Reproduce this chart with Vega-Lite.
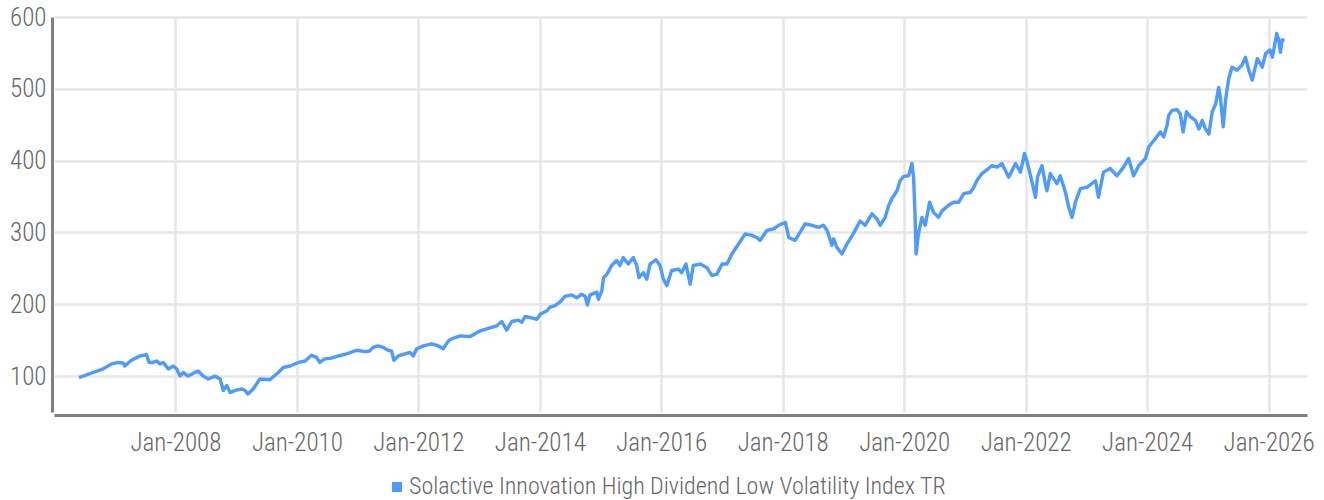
{
  "$schema": "https://vega.github.io/schema/vega-lite/v6.json",
  "width": 1253,
  "height": 395,
  "autosize": {"type": "none"},
  "padding": {"left": 54, "top": 17, "right": 17, "bottom": 88},
  "background": "white",
  "config": {
    "view": {"stroke": null},
    "font": "Roboto Condensed, Roboto, sans-serif",
    "axis": {
      "labelFont": "Roboto Condensed, Roboto, sans-serif",
      "labelFontWeight": 300,
      "labelColor": "#666666",
      "labelFontSize": 25,
      "gridColor": "#e6e6e6",
      "gridWidth": 2.5,
      "domainColor": "#808080",
      "domainWidth": 3,
      "ticks": false
    },
    "legend": {
      "labelFont": "Roboto Condensed, Roboto, sans-serif",
      "labelFontWeight": 300,
      "labelColor": "#666666",
      "labelFontSize": 24,
      "labelLimit": 0
    }
  },
  "data": {
    "values": [
      {"date": "2006-05-31", "value": 98},
      {"date": "2006-06-25", "value": 100},
      {"date": "2006-08-24", "value": 105},
      {"date": "2006-10-24", "value": 110},
      {"date": "2006-12-13", "value": 117},
      {"date": "2007-01-23", "value": 119},
      {"date": "2007-02-21", "value": 118},
      {"date": "2007-03-03", "value": 114},
      {"date": "2007-04-12", "value": 122},
      {"date": "2007-06-01", "value": 128},
      {"date": "2007-07-11", "value": 130},
      {"date": "2007-07-27", "value": 119},
      {"date": "2007-08-20", "value": 119},
      {"date": "2007-09-10", "value": 121},
      {"date": "2007-09-30", "value": 117},
      {"date": "2007-10-20", "value": 119},
      {"date": "2007-11-19", "value": 110},
      {"date": "2007-12-19", "value": 114},
      {"date": "2008-01-09", "value": 110},
      {"date": "2008-01-29", "value": 100},
      {"date": "2008-02-17", "value": 105},
      {"date": "2008-03-18", "value": 100},
      {"date": "2008-04-27", "value": 105},
      {"date": "2008-05-17", "value": 107},
      {"date": "2008-06-16", "value": 100},
      {"date": "2008-07-16", "value": 96},
      {"date": "2008-08-26", "value": 100},
      {"date": "2008-09-26", "value": 96},
      {"date": "2008-10-15", "value": 80},
      {"date": "2008-11-05", "value": 87},
      {"date": "2008-11-25", "value": 77},
      {"date": "2008-12-25", "value": 80},
      {"date": "2009-02-04", "value": 82},
      {"date": "2009-02-23", "value": 80},
      {"date": "2009-03-13", "value": 75},
      {"date": "2009-04-13", "value": 82},
      {"date": "2009-05-23", "value": 96},
      {"date": "2009-07-22", "value": 95},
      {"date": "2009-09-11", "value": 105},
      {"date": "2009-10-11", "value": 112},
      {"date": "2009-11-21", "value": 114},
      {"date": "2010-01-10", "value": 119},
      {"date": "2010-02-19", "value": 121},
      {"date": "2010-03-30", "value": 129},
      {"date": "2010-04-29", "value": 126},
      {"date": "2010-05-18", "value": 119},
      {"date": "2010-06-18", "value": 124},
      {"date": "2010-07-28", "value": 125},
      {"date": "2010-09-07", "value": 128},
      {"date": "2010-10-27", "value": 131},
      {"date": "2010-12-26", "value": 136},
      {"date": "2011-02-15", "value": 134},
      {"date": "2011-03-15", "value": 135},
      {"date": "2011-04-04", "value": 140},
      {"date": "2011-05-04", "value": 142},
      {"date": "2011-06-04", "value": 140},
      {"date": "2011-07-03", "value": 136},
      {"date": "2011-07-24", "value": 135},
      {"date": "2011-08-07", "value": 122},
      {"date": "2011-09-03", "value": 128},
      {"date": "2011-10-13", "value": 131},
      {"date": "2011-11-12", "value": 133},
      {"date": "2011-12-02", "value": 128},
      {"date": "2011-12-22", "value": 138},
      {"date": "2012-02-01", "value": 142},
      {"date": "2012-03-21", "value": 145},
      {"date": "2012-05-01", "value": 142},
      {"date": "2012-05-30", "value": 138},
      {"date": "2012-06-30", "value": 149},
      {"date": "2012-07-20", "value": 152},
      {"date": "2012-09-09", "value": 156},
      {"date": "2012-11-08", "value": 155},
      {"date": "2013-01-08", "value": 163},
      {"date": "2013-03-07", "value": 167},
      {"date": "2013-04-17", "value": 170},
      {"date": "2013-05-17", "value": 176},
      {"date": "2013-06-16", "value": 164},
      {"date": "2013-07-16", "value": 176},
      {"date": "2013-08-25", "value": 178},
      {"date": "2013-09-15", "value": 175},
      {"date": "2013-10-04", "value": 183},
      {"date": "2013-11-14", "value": 181},
      {"date": "2013-12-14", "value": 179},
      {"date": "2014-01-03", "value": 186},
      {"date": "2014-02-13", "value": 191},
      {"date": "2014-03-03", "value": 196},
      {"date": "2014-04-02", "value": 198},
      {"date": "2014-05-02", "value": 203},
      {"date": "2014-06-01", "value": 211},
      {"date": "2014-07-11", "value": 213},
      {"date": "2014-08-11", "value": 209},
      {"date": "2014-09-10", "value": 214},
      {"date": "2014-10-01", "value": 211},
      {"date": "2014-10-14", "value": 199},
      {"date": "2014-10-30", "value": 213},
      {"date": "2014-12-10", "value": 217},
      {"date": "2014-12-19", "value": 207},
      {"date": "2015-01-09", "value": 219},
      {"date": "2015-01-19", "value": 237},
      {"date": "2015-02-09", "value": 242},
      {"date": "2015-03-09", "value": 254},
      {"date": "2015-04-08", "value": 261},
      {"date": "2015-04-28", "value": 254},
      {"date": "2015-05-17", "value": 265},
      {"date": "2015-06-17", "value": 256},
      {"date": "2015-07-17", "value": 265},
      {"date": "2015-08-07", "value": 254},
      {"date": "2015-08-20", "value": 237},
      {"date": "2015-09-16", "value": 244},
      {"date": "2015-10-06", "value": 235},
      {"date": "2015-10-26", "value": 256},
      {"date": "2015-12-01", "value": 262},
      {"date": "2015-12-25", "value": 254},
      {"date": "2016-01-14", "value": 235},
      {"date": "2016-02-04", "value": 226},
      {"date": "2016-03-04", "value": 247},
      {"date": "2016-04-13", "value": 249},
      {"date": "2016-05-03", "value": 244},
      {"date": "2016-05-29", "value": 256},
      {"date": "2016-06-23", "value": 228},
      {"date": "2016-07-12", "value": 254},
      {"date": "2016-08-22", "value": 256},
      {"date": "2016-10-02", "value": 251},
      {"date": "2016-11-01", "value": 240},
      {"date": "2016-12-01", "value": 242},
      {"date": "2017-01-01", "value": 256},
      {"date": "2017-01-31", "value": 256},
      {"date": "2017-03-01", "value": 270},
      {"date": "2017-04-10", "value": 284},
      {"date": "2017-05-20", "value": 298},
      {"date": "2017-06-29", "value": 296},
      {"date": "2017-07-29", "value": 293},
      {"date": "2017-08-18", "value": 289},
      {"date": "2017-09-28", "value": 303},
      {"date": "2017-11-07", "value": 305},
      {"date": "2017-12-07", "value": 310},
      {"date": "2018-01-17", "value": 314},
      {"date": "2018-02-06", "value": 293},
      {"date": "2018-03-16", "value": 289},
      {"date": "2018-04-15", "value": 300},
      {"date": "2018-05-15", "value": 312},
      {"date": "2018-06-25", "value": 310},
      {"date": "2018-08-04", "value": 307},
      {"date": "2018-09-03", "value": 310},
      {"date": "2018-09-24", "value": 303},
      {"date": "2018-10-24", "value": 282},
      {"date": "2018-11-03", "value": 291},
      {"date": "2018-11-23", "value": 279},
      {"date": "2018-12-23", "value": 270},
      {"date": "2019-01-22", "value": 284},
      {"date": "2019-03-01", "value": 298},
      {"date": "2019-04-11", "value": 316},
      {"date": "2019-05-11", "value": 310},
      {"date": "2019-06-21", "value": 326},
      {"date": "2019-07-21", "value": 319},
      {"date": "2019-08-10", "value": 310},
      {"date": "2019-09-09", "value": 321},
      {"date": "2019-09-29", "value": 337},
      {"date": "2019-10-19", "value": 347},
      {"date": "2019-11-19", "value": 358},
      {"date": "2019-12-08", "value": 372},
      {"date": "2019-12-28", "value": 378},
      {"date": "2020-01-28", "value": 379},
      {"date": "2020-02-17", "value": 396},
      {"date": "2020-02-27", "value": 377},
      {"date": "2020-03-07", "value": 321},
      {"date": "2020-03-13", "value": 270},
      {"date": "2020-03-27", "value": 298},
      {"date": "2020-04-17", "value": 321},
      {"date": "2020-05-07", "value": 310},
      {"date": "2020-06-02", "value": 342},
      {"date": "2020-06-26", "value": 328},
      {"date": "2020-07-26", "value": 321},
      {"date": "2020-08-16", "value": 330},
      {"date": "2020-09-25", "value": 338},
      {"date": "2020-10-25", "value": 342},
      {"date": "2020-11-24", "value": 342},
      {"date": "2020-12-24", "value": 354},
      {"date": "2021-02-03", "value": 356},
      {"date": "2021-02-23", "value": 363},
      {"date": "2021-03-13", "value": 372},
      {"date": "2021-04-13", "value": 382},
      {"date": "2021-05-22", "value": 389},
      {"date": "2021-06-12", "value": 393},
      {"date": "2021-07-12", "value": 391},
      {"date": "2021-08-11", "value": 396},
      {"date": "2021-09-21", "value": 377},
      {"date": "2021-11-01", "value": 396},
      {"date": "2021-12-01", "value": 384},
      {"date": "2021-12-25", "value": 410},
      {"date": "2022-01-10", "value": 398},
      {"date": "2022-01-30", "value": 379},
      {"date": "2022-03-01", "value": 349},
      {"date": "2022-03-13", "value": 377},
      {"date": "2022-04-09", "value": 393},
      {"date": "2022-04-29", "value": 368},
      {"date": "2022-05-09", "value": 358},
      {"date": "2022-05-29", "value": 382},
      {"date": "2022-07-08", "value": 368},
      {"date": "2022-07-28", "value": 379},
      {"date": "2022-08-28", "value": 356},
      {"date": "2022-09-17", "value": 335},
      {"date": "2022-10-07", "value": 321},
      {"date": "2022-10-27", "value": 342},
      {"date": "2022-11-26", "value": 361},
      {"date": "2023-01-06", "value": 363},
      {"date": "2023-02-25", "value": 372},
      {"date": "2023-03-15", "value": 349},
      {"date": "2023-04-14", "value": 384},
      {"date": "2023-05-24", "value": 389},
      {"date": "2023-07-04", "value": 379},
      {"date": "2023-08-13", "value": 391},
      {"date": "2023-09-12", "value": 403},
      {"date": "2023-10-12", "value": 379},
      {"date": "2023-11-12", "value": 393},
      {"date": "2023-12-22", "value": 403},
      {"date": "2024-01-11", "value": 419},
      {"date": "2024-02-11", "value": 428},
      {"date": "2024-03-21", "value": 440},
      {"date": "2024-04-10", "value": 433},
      {"date": "2024-05-01", "value": 450},
      {"date": "2024-05-10", "value": 463},
      {"date": "2024-05-30", "value": 470},
      {"date": "2024-06-29", "value": 471},
      {"date": "2024-07-19", "value": 465},
      {"date": "2024-08-05", "value": 440},
      {"date": "2024-08-25", "value": 468},
      {"date": "2024-09-18", "value": 461},
      {"date": "2024-10-18", "value": 456},
      {"date": "2024-11-08", "value": 444},
      {"date": "2024-11-28", "value": 456},
      {"date": "2024-12-18", "value": 444},
      {"date": "2025-01-07", "value": 437},
      {"date": "2025-01-27", "value": 468},
      {"date": "2025-02-17", "value": 479},
      {"date": "2025-03-07", "value": 502},
      {"date": "2025-03-17", "value": 488},
      {"date": "2025-04-03", "value": 447},
      {"date": "2025-04-17", "value": 484},
      {"date": "2025-05-06", "value": 514},
      {"date": "2025-05-26", "value": 530},
      {"date": "2025-06-26", "value": 526},
      {"date": "2025-07-25", "value": 533},
      {"date": "2025-08-15", "value": 544},
      {"date": "2025-09-04", "value": 526},
      {"date": "2025-09-25", "value": 512},
      {"date": "2025-10-25", "value": 542},
      {"date": "2025-11-24", "value": 530},
      {"date": "2025-12-14", "value": 549},
      {"date": "2026-01-09", "value": 554},
      {"date": "2026-01-24", "value": 544},
      {"date": "2026-02-19", "value": 577},
      {"date": "2026-03-03", "value": 568},
      {"date": "2026-03-13", "value": 551},
      {"date": "2026-03-23", "value": 568},
      {"date": "2026-04-07", "value": 568}
    ]
  },
  "transform": [{"calculate": "'Solactive Innovation High Dividend Low Volatility Index TR'", "as": "series"}],
  "mark": {"type": "line", "strokeWidth": 3.4, "interpolate": "linear", "strokeJoin": "round"},
  "encoding": {
    "x": {
      "field": "date",
      "type": "temporal",
      "title": null,
      "scale": {"domain": [{"year": 2006, "month": 1, "date": 1}, {"year": 2026, "month": 8, "date": 20}]},
      "axis": {
        "format": "%b-%Y",
        "values": [
          {"year": 2008, "month": 1, "date": 1},
          {"year": 2010, "month": 1, "date": 1},
          {"year": 2012, "month": 1, "date": 1},
          {"year": 2014, "month": 1, "date": 1},
          {"year": 2016, "month": 1, "date": 1},
          {"year": 2018, "month": 1, "date": 1},
          {"year": 2020, "month": 1, "date": 1},
          {"year": 2022, "month": 1, "date": 1},
          {"year": 2024, "month": 1, "date": 1},
          {"year": 2026, "month": 1, "date": 1}
        ],
        "labelPadding": 15,
        "offset": 3,
        "labelFlush": false
      }
    },
    "y": {
      "field": "value",
      "type": "quantitative",
      "title": null,
      "scale": {"domain": [50, 600], "nice": false, "zero": false},
      "axis": {"values": [100, 200, 300, 400, 500, 600], "labelPadding": 6, "offset": 2}
    },
    "color": {
      "field": "series",
      "type": "nominal",
      "scale": {"range": ["#4d9bff"]},
      "legend": {
        "title": null,
        "orient": "none",
        "legendX": 331,
        "legendY": 458,
        "direction": "horizontal",
        "symbolType": "square",
        "symbolFillColor": "#4d9bff",
        "symbolStrokeWidth": 0,
        "symbolSize": 100,
        "labelOffset": 0
      }
    }
  }
}
